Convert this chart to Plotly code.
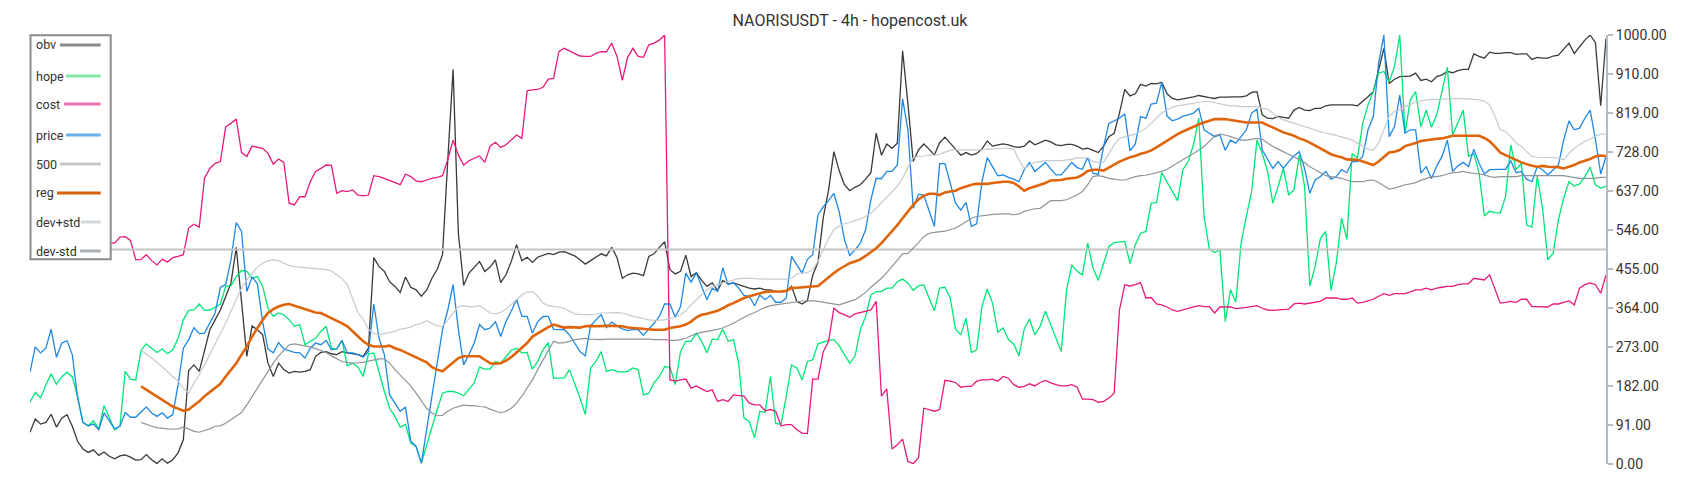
import plotly.graph_objects as go

# ---------------- data ----------------
N = 299
idx = list(range(N))

obv = [
    74, 105, 93, 97, 116, 86, 107, 115, 88, 53,
    35, 27, 33, 20, 28, 18, 12, 19, 21, 16,
    9, 10, 22, 10, 1, 12, 2, 10, 26, 57,
    218, 231, 216, 266, 313, 336, 359, 390, 422, 505,
    383, 251, 322, 313, 301, 235, 204, 235, 220, 212,
    216, 214, 216, 220, 251, 260, 262, 257, 255, 262,
    259, 257, 255, 251, 270, 481, 460, 449, 425, 414,
    400, 436, 412, 406, 391, 405, 433, 454, 488, 709,
    920, 538, 416, 445, 459, 472, 449, 459, 476, 423,
    441, 472, 511, 474, 482, 470, 482, 486, 491, 488,
    494, 495, 490, 485, 476, 466, 474, 481, 490, 485,
    505, 481, 433, 441, 445, 443, 439, 484, 490, 505,
    518, 453, 443, 449, 487, 437, 446, 428, 414, 422,
    404, 428, 420, 422, 418, 414, 410, 408, 410, 406,
    406, 402, 402, 402, 414, 379, 373, 381, 440, 470,
    575, 639, 728, 684, 651, 637, 645, 651, 664, 679,
    771, 720, 746, 736, 748, 963, 840, 705, 732, 746,
    734, 720, 749, 762, 748, 735, 720, 726, 720, 724,
    734, 753, 741, 744, 746, 744, 740, 738, 741, 753,
    744, 749, 755, 751, 744, 742, 745, 745, 741, 734,
    736, 731, 726, 741, 763, 771, 818, 873, 858, 863,
    885, 881, 887, 886, 890, 863, 852, 849, 851, 854,
    856, 859, 856, 854, 852, 855, 855, 856, 856, 856,
    858, 866, 868, 814, 806, 805, 810, 808, 806, 825,
    831, 825, 824, 829, 829, 835, 837, 837, 837, 837,
    837, 835, 845, 856, 868, 918, 969, 887, 897, 903,
    904, 904, 911, 894, 897, 891, 903, 907, 915, 912,
    917, 920, 920, 956, 950, 946, 960, 957, 957, 959,
    959, 955, 956, 956, 943, 948, 946, 946, 951, 953,
    967, 981, 957, 973, 988, 1000, 982, 835, 992,
]

hope = [
    144, 167, 154, 185, 210, 186, 203, 214, 203, 158,
    97, 89, 101, 82, 136, 107, 80, 88, 216, 198,
    196, 265, 280, 270, 260, 268, 257, 266, 293, 336,
    358, 359, 373, 358, 359, 365, 373, 414, 415, 437,
    451, 449, 433, 437, 414, 363, 344, 352, 348, 336,
    321, 325, 278, 286, 293, 309, 321, 270, 268, 288,
    229, 235, 226, 204, 257, 259, 212, 169, 130, 111,
    86, 92, 49, 41, 2, 45, 88, 127, 165, 169,
    169, 165, 159, 173, 189, 226, 221, 221, 239, 235,
    251, 265, 270, 259, 260, 221, 239, 266, 283, 200,
    200, 200, 220, 189, 154, 115, 224, 239, 262, 216,
    220, 216, 214, 216, 224, 220, 161, 165, 189, 204,
    227, 226, 185, 262, 286, 286, 305, 286, 259, 291,
    290, 314, 286, 290, 235, 107, 99, 61, 123, 120,
    204, 95, 92, 158, 231, 224, 196, 239, 243, 280,
    284, 288, 290, 276, 255, 235, 251, 313, 344, 394,
    402, 402, 410, 410, 425, 431, 422, 405, 415, 418,
    387, 357, 410, 412, 387, 315, 301, 340, 260, 266,
    367, 408, 375, 307, 317, 290, 280, 252, 315, 338,
    301, 321, 356, 325, 297, 262, 406, 464, 449, 441,
    515, 457, 428, 468, 507, 516, 517, 519, 467, 511,
    538, 542, 608, 609, 679, 658, 635, 614, 686, 705,
    744, 806, 577, 501, 493, 499, 332, 406, 377, 515,
    577, 635, 755, 724, 682, 608, 647, 689, 627, 639,
    720, 647, 415, 460, 526, 542, 405, 468, 573, 524,
    724, 713, 794, 837, 868, 911, 915, 891, 926, 1000,
    771, 849, 868, 786, 825, 785, 814, 868, 925, 767,
    798, 825, 717, 724, 678, 578, 589, 586, 585, 623,
    744, 686, 701, 557, 552, 672, 596, 476, 491, 569,
    620, 658, 648, 653, 670, 692, 651, 643, 647,
]

cost_start = 14
cost = [
    520, 516, 515, 529, 530, 521,
    476, 477, 488, 474, 464, 477, 471, 481, 484, 488,
    550, 559, 552, 666, 689, 701, 705, 786, 794, 804,
    726, 717, 741, 738, 736, 724, 699, 711, 703, 608,
    604, 623, 623, 658, 682, 689, 697, 696, 631, 637,
    635, 639, 627, 625, 627, 672, 670, 666, 661, 656,
    651, 676, 670, 660, 658, 662, 666, 668, 672, 710,
    755, 720, 697, 707, 713, 718, 703, 741, 750, 738,
    744, 755, 767, 759, 870, 872, 873, 878, 897, 899,
    961, 969, 963, 957, 951, 950, 950, 957, 961, 961,
    981, 950, 894, 948, 969, 950, 948, 977, 981, 988,
    1000, 196, 193, 196, 198, 177, 182, 175, 169, 173,
    146, 150, 146, 161, 160, 158, 142, 138, 138, 124,
    127, 123, 89, 92, 92, 80, 72, 71, 198, 198,
    262, 286, 363, 353, 348, 342, 350, 353, 356, 359,
    379, 158, 175, 35, 45, 58, 6, 1, 14, 130,
    127, 123, 127, 195, 193, 190, 179, 181, 181, 193,
    196, 196, 198, 193, 204, 200, 185, 179, 181, 187,
    182, 190, 195, 189, 185, 182, 182, 185, 179, 151,
    151, 150, 144, 146, 154, 165, 359, 418, 415, 418,
    423, 387, 388, 373, 371, 366, 359, 356, 359, 363,
    366, 369, 367, 367, 352, 366, 366, 366, 362, 363,
    365, 367, 369, 363, 359, 358, 359, 361, 361, 373,
    375, 373, 375, 377, 379, 387, 387, 387, 384, 384,
    387, 375, 377, 381, 384, 391, 397, 393, 397, 397,
    397, 401, 406, 406, 410, 406, 410, 412, 414, 414,
    418, 420, 420, 433, 431, 429, 441, 410, 375, 377,
    379, 377, 384, 384, 367, 367, 367, 366, 373, 373,
    377, 380, 371, 410, 418, 422, 418, 398, 441,
]

price = [
    214, 273, 259, 270, 314, 249, 282, 287, 255, 154,
    97, 89, 93, 80, 119, 99, 82, 88, 120, 109,
    109, 121, 133, 119, 111, 119, 107, 115, 185, 270,
    290, 318, 304, 305, 330, 352, 412, 418, 476, 563,
    542, 402, 436, 420, 330, 268, 259, 283, 268, 264,
    260, 259, 247, 270, 282, 278, 288, 266, 268, 288,
    259, 259, 255, 249, 262, 373, 293, 255, 161, 142,
    123, 133, 53, 41, 2, 80, 158, 235, 313, 359,
    418, 313, 231, 255, 282, 325, 313, 317, 332, 297,
    332, 356, 384, 344, 344, 305, 332, 344, 344, 314,
    313, 314, 301, 282, 262, 252, 322, 336, 348, 318,
    331, 322, 315, 311, 313, 313, 300, 315, 328, 344,
    373, 373, 342, 367, 445, 424, 445, 414, 383, 410,
    402, 457, 418, 423, 410, 393, 391, 369, 394, 383,
    393, 377, 377, 387, 484, 464, 445, 477, 488, 581,
    600, 614, 631, 588, 523, 486, 499, 515, 546, 616,
    666, 665, 682, 682, 697, 851, 779, 596, 629, 627,
    592, 554, 700, 700, 655, 608, 592, 610, 554, 560,
    658, 714, 693, 672, 674, 668, 664, 658, 686, 703,
    682, 693, 703, 688, 674, 674, 689, 703, 691, 687,
    715, 678, 675, 740, 794, 800, 806, 816, 730, 746,
    810, 806, 839, 841, 890, 811, 800, 804, 811, 814,
    818, 829, 779, 771, 763, 767, 731, 755, 748, 763,
    779, 818, 827, 732, 709, 689, 705, 689, 705, 718,
    728, 689, 631, 662, 670, 682, 664, 670, 686, 679,
    705, 705, 717, 779, 810, 934, 1000, 763, 786, 860,
    771, 779, 779, 678, 693, 665, 695, 717, 755, 682,
    695, 703, 693, 734, 701, 676, 686, 687, 687, 687,
    707, 679, 682, 664, 658, 693, 686, 674, 686, 697,
    755, 800, 779, 783, 806, 825, 757, 676, 717,
]

level_500 = [500, 500]

band_start = 21
reg = [
    181, 173, 165, 158, 151, 142, 134, 129, 124,
    127, 136, 146, 158, 167, 177, 187, 204, 220, 235,
    255, 274, 297, 317, 336, 352, 361, 367, 371, 373,
    369, 366, 361, 357, 353, 352, 346, 340, 335, 328,
    321, 309, 296, 286, 278, 274, 274, 274, 276, 270,
    266, 260, 255, 248, 243, 237, 226, 220, 216, 226,
    237, 247, 251, 251, 251, 251, 243, 235, 234, 235,
    241, 249, 260, 270, 282, 297, 305, 313, 319, 325,
    322, 318, 319, 319, 318, 321, 322, 321, 322, 322,
    322, 322, 321, 318, 317, 315, 314, 314, 313, 313,
    313, 317, 319, 321, 325, 332, 342, 348, 350, 353,
    357, 363, 370, 375, 381, 387, 391, 394, 398, 401,
    402, 402, 402, 404, 410, 411, 412, 414, 415, 415,
    425, 436, 445, 454, 462, 468, 472, 477, 485, 493,
    503, 515, 529, 542, 557, 573, 589, 604, 617, 625,
    630, 630, 627, 633, 635, 637, 643, 647, 651, 653,
    653, 653, 655, 657, 658, 658, 655, 647, 637, 643,
    647, 651, 655, 661, 661, 662, 665, 666, 668, 674,
    683, 686, 686, 684, 691, 700, 705, 710, 715, 718,
    723, 726, 731, 738, 746, 754, 762, 769, 775, 780,
    786, 792, 796, 800, 804, 804, 804, 802, 800, 798,
    796, 796, 796, 796, 790, 785, 779, 773, 769, 765,
    759, 755, 749, 742, 734, 727, 722, 718, 715, 710,
    709, 709, 705, 701, 697, 705, 715, 726, 728, 732,
    741, 744, 748, 753, 755, 757, 758, 759, 762, 765,
    765, 765, 765, 765, 765, 760, 752, 740, 726, 720,
    714, 709, 703, 699, 695, 693, 695, 693, 693, 692,
    689, 693, 697, 703, 707, 711, 717, 719, 718,
]

dev_plus = [
    265, 257, 247, 237, 226, 216, 204, 193, 177,
    165, 189, 208, 231, 255, 278, 304, 328, 356, 383,
    410, 429, 445, 459, 468, 474, 476, 474, 468, 463,
    460, 459, 458, 457, 456, 454, 453, 450, 442, 432,
    418, 387, 353, 338, 314, 304, 301, 304, 307, 309,
    314, 317, 319, 325, 328, 334, 328, 322, 321, 335,
    352, 367, 369, 367, 367, 369, 361, 352, 350, 353,
    361, 371, 383, 394, 401, 402, 391, 375, 369, 367,
    366, 363, 356, 350, 349, 348, 348, 349, 352, 352,
    353, 353, 352, 348, 344, 342, 339, 336, 335, 335,
    336, 339, 342, 348, 357, 371, 383, 394, 406, 414,
    418, 422, 425, 429, 432, 433, 433, 432, 431, 431,
    431, 431, 431, 431, 433, 443, 445, 446, 453, 472,
    499, 526, 546, 555, 560, 563, 568, 571, 577, 585,
    596, 609, 623, 635, 648, 666, 692, 713, 717, 718,
    720, 720, 722, 727, 731, 732, 732, 732, 732, 732,
    732, 734, 735, 736, 736, 736, 734, 709, 689, 697,
    703, 705, 707, 707, 707, 707, 709, 710, 714, 714,
    713, 705, 703, 703, 724, 744, 759, 762, 765, 769,
    775, 783, 794, 806, 818, 825, 832, 835, 837, 839,
    841, 842, 845, 845, 842, 839, 837, 835, 835, 833,
    833, 833, 833, 829, 827, 818, 808, 802, 798, 794,
    790, 786, 783, 779, 775, 771, 769, 766, 763, 759,
    755, 748, 741, 734, 731, 748, 779, 810, 822, 825,
    833, 837, 845, 847, 849, 850, 850, 850, 851, 852,
    852, 852, 851, 850, 849, 846, 837, 810, 779, 775,
    763, 748, 741, 728, 717, 715, 715, 715, 714, 713,
    709, 724, 736, 744, 752, 757, 765, 769, 769,
]

dev_minus = [
    97, 92, 88, 85, 83, 82, 81, 82, 86,
    82, 76, 74, 78, 82, 88, 89, 95, 103, 113,
    120, 138, 158, 177, 196, 216, 235, 252, 266, 278,
    280, 278, 276, 273, 269, 264, 260, 252, 245, 239,
    237, 235, 236, 237, 240, 243, 245, 245, 235, 220,
    208, 196, 182, 165, 146, 130, 119, 113, 113, 123,
    130, 134, 137, 136, 136, 134, 133, 128, 123, 119,
    123, 130, 142, 158, 177, 196, 220, 243, 266, 286,
    282, 283, 286, 290, 291, 293, 291, 290, 290, 291,
    291, 292, 292, 291, 291, 291, 291, 291, 290, 290,
    290, 288, 288, 290, 293, 299, 304, 307, 309, 311,
    314, 317, 322, 328, 335, 342, 348, 353, 359, 365,
    369, 371, 373, 375, 377, 379, 380, 380, 381, 379,
    377, 375, 373, 371, 375, 379, 383, 391, 400, 412,
    422, 433, 446, 460, 476, 490, 491, 503, 516, 530,
    538, 540, 541, 543, 546, 550, 557, 565, 573, 577,
    578, 580, 582, 583, 583, 583, 581, 583, 589, 592,
    595, 596, 604, 614, 614, 614, 616, 621, 627, 635,
    651, 670, 672, 670, 666, 664, 662, 662, 666, 670,
    672, 673, 676, 679, 682, 687, 695, 703, 709, 717,
    724, 732, 740, 752, 765, 769, 767, 763, 759, 755,
    755, 757, 759, 757, 748, 740, 734, 728, 723, 717,
    710, 703, 693, 686, 678, 672, 670, 668, 666, 662,
    658, 658, 658, 661, 662, 656, 648, 641, 643, 647,
    651, 653, 656, 661, 666, 670, 670, 672, 676, 679,
    680, 682, 679, 678, 676, 674, 670, 668, 670, 670,
    670, 670, 672, 672, 672, 672, 672, 672, 672, 673,
    672, 670, 668, 666, 666, 666, 666, 668, 668,
]

y_ticks = [0, 91, 182, 273, 364, 455, 546, 637, 728, 819, 910, 1000]
y_tick_labels = [f"{v:.2f}" for v in y_ticks]
title_text = "NAORISUSDT - 4h - hopencost.uk"

# ---------------- figure ----------------
W, H = 1700, 500
ML, MR, MT, MB = 30, 94, 35, 36
PW, PH = W - ML - MR, H - MT - MB


def px_x(px):
    return (px - ML) / PW


def px_y(py):
    return (MT + PH - py) / PH


def span(start, values):
    return idx[start:start + len(values)]


series = [
    ("obv", idx, obv, "#3a3a3a", 1.3, "#8a8a8a"),
    ("hope", idx, hope, "#00e676", 1.3, "#7de8a8"),
    ("cost", span(cost_start, cost), cost, "#e8197a", 1.3, "#ee72ae"),
    ("price", idx, price, "#1e88e5", 1.3, "#6cb0ee"),
    ("500", [idx[0], idx[-1]], level_500, "#c4c4c4", 2.0, "#c8c8c8"),
    ("reg", span(band_start, reg), reg, "#e0650a", 2.6, "#d9610f"),
    ("dev+std", span(band_start, dev_plus), dev_plus, "#c5cbd0", 1.2, "#d3d8dc"),
    ("dev-std", span(band_start, dev_minus), dev_minus, "#8c959d", 1.2, "#a9b1b7"),
]

fig = go.Figure()
for name, xs, ys, color, width, _ in series:
    fig.add_trace(go.Scatter(
        x=xs, y=ys, mode="lines", name=name,
        line=dict(color=color, width=width),
        hoverinfo="skip", showlegend=False,
    ))

# custom legend (label on the left, swatch on the right)
legend_rows = [45, 76, 104, 135, 164, 193, 222, 251]
swatch_start = [60, 66, 64, 66, 60, 57, 81, 80]
shapes = [dict(
    type="rect", xref="paper", yref="paper",
    x0=px_x(30.5), x1=px_x(110.7), y0=px_y(259.3), y1=px_y(35.2),
    line=dict(color="#8c8c8c", width=2), fillcolor="white", layer="above",
)]
annotations = []
for (name, _, _, _, _, sw_color), yc, sx in zip(series, legend_rows, swatch_start):
    shapes.append(dict(
        type="line", xref="paper", yref="paper",
        x0=px_x(sx), x1=px_x(100.7), y0=px_y(yc), y1=px_y(yc),
        line=dict(color=sw_color, width=3), layer="above",
    ))
    annotations.append(dict(
        text=name, xref="paper", yref="paper",
        x=px_x(34), y=px_y(yc), xanchor="left", yanchor="middle",
        showarrow=False, font=dict(family="Roboto", size=12.5, color="#333333"),
    ))

fig.update_layout(
    width=W, height=H,
    margin=dict(l=ML, r=MR, t=MT, b=MB, pad=0),
    paper_bgcolor="white", plot_bgcolor="white",
    font=dict(family="Roboto", color="#333333"),
    title=dict(text=title_text, x=0.5, xanchor="center", y=1 - 20.5 / H, yanchor="middle",
               font=dict(family="Roboto", size=16, color="#333333")),
    xaxis=dict(range=[idx[0], idx[-1]], visible=False, fixedrange=True),
    yaxis=dict(
        range=[0, 1000], side="right", tickmode="array",
        tickvals=y_ticks, ticktext=y_tick_labels,
        showline=True, linecolor="#b3bcc4", linewidth=2, mirror=False,
        ticks="outside", ticklen=5, tickwidth=1.5, tickcolor="#b3bcc4",
        showgrid=False, zeroline=False, fixedrange=True,
        tickfont=dict(family="Roboto", size=14, color="#333333"),
    ),
    shapes=shapes,
    annotations=annotations,
    showlegend=False,
)

fig.write_html("out.html", config={"displayModeBar": False},
               post_script="document.body.style.margin='0';")
